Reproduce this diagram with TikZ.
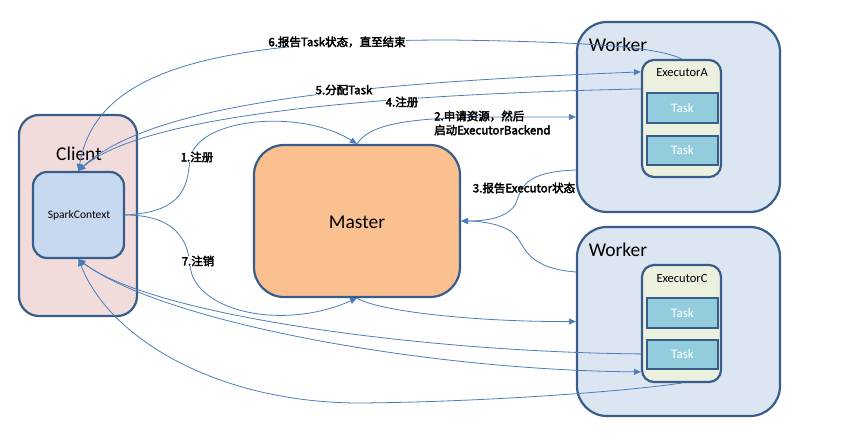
\documentclass[tikz,border=0pt]{standalone}
\usepackage{fontspec}
\setmainfont{Carlito}
\newfontfamily\cjk[FakeBold=3]{Noto Sans CJK SC}
\usetikzlibrary{arrows.meta,calc}
\definecolor{bordc}{HTML}{385D8A}
\definecolor{connc}{HTML}{4A7EBB}
\definecolor{clientc}{HTML}{F2DCDB}
\definecolor{scc}{HTML}{C6D9F1}
\definecolor{masterc}{HTML}{FAC090}
\definecolor{workerc}{HTML}{DCE6F2}
\definecolor{execc}{HTML}{EBF1DE}
\definecolor{taskc}{HTML}{93CDDD}
\begin{document}
\begin{tikzpicture}[x=1pt,y=-1pt,
  box/.style={draw=bordc, line width=2.2pt, rounded corners=#1, inner sep=0pt},
  bigtxt/.style={font=\fontsize{19.5}{22}\selectfont, inner sep=0pt},
  smtxt/.style={font=\fontsize{12.5}{14}\selectfont, inner sep=0pt},
  tasktxt/.style={font=\fontsize{13}{14}\selectfont, text=white, inner sep=0pt},
  taskbox/.style={draw=bordc, line width=2pt, fill=taskc, minimum width=71pt, minimum height=29.5pt, inner sep=0pt},
  conn/.style={draw=connc, line width=0.8pt, -{Triangle[length=7pt,width=6pt]}},
  lbl/.style={font=\cjk\fontsize{11.5}{14}\selectfont, inner sep=0pt, fill=white}]
\useasboundingbox (0,0) rectangle (861,442);
% Client
\node[box=20pt, fill=clientc, minimum width=118pt, minimum height=201pt] (client) at (78,215.5) {};
\node[bigtxt] (clientlbl) at (79,154) {Client};
\node[box=14pt, fill=scc, minimum width=91pt, minimum height=86pt] (sc) at (78.5,215) {};
\node[font=\fontsize{11.5}{13}\selectfont, inner sep=0pt] (sclbl) at (79,215) {SparkContext};
% Master
\node[box=30pt, fill=masterc, minimum width=206pt, minimum height=152pt] (master) at (357,221) {};
\node[bigtxt] (masterlbl) at (357,222) {Master};
% Worker 1
\node[box=30pt, fill=workerc, minimum width=203pt, minimum height=190pt] (w1) at (678.5,117) {};
\node[bigtxt] (w1lbl) at (618,45) {Worker};
\node[box=12pt, fill=execc, minimum width=79pt, minimum height=117pt] (exA) at (681.5,118.5) {};
\node[smtxt] (exAlbl) at (682,73) {ExecutorA};
\node[taskbox] (tA1) at (682.5,108) {};
\node[tasktxt] at (tA1) {Task};
\node[taskbox] (tA2) at (682.5,150.5) {};
\node[tasktxt] at (tA2) {Task};
% Worker 2
\node[box=30pt, fill=workerc, minimum width=203pt, minimum height=189pt] (w2) at (678.5,321.5) {};
\node[bigtxt] (w2lbl) at (618,250) {Worker};
\node[box=12pt, fill=execc, minimum width=79pt, minimum height=117pt] (exC) at (681.5,323.5) {};
\node[smtxt] (exClbl) at (682,278) {ExecutorC};
\node[taskbox] (tC1) at (682.5,313) {};
\node[tasktxt] at (tC1) {Task};
\node[taskbox] (tC2) at (682.5,354.5) {};
\node[tasktxt] at (tC2) {Task};
% connectors
\draw[conn] (sc.east) .. controls (185,212) and (187,185) .. (190,160) .. controls (195,118) and (300,108) .. (master.north);
\draw[conn] (master.north) .. controls (375,115) and (450,117) .. (w1.west);
\draw[conn] ([yshift=-53pt]w1.west) .. controls (520,172) and (522,190) .. (515,205) .. controls (505,220) and (480,221) .. (master.east);
\draw[conn] ([yshift=49.5pt]w2.west) .. controls (525,268) and (525,245) .. (515,235) .. controls (505,224) and (480,221) .. (master.east);
\draw[conn] ([yshift=-30pt]exA.north west) .. controls (350,95) and (140,118) .. (sc.north);
\draw[conn] (sc.north) .. controls (140,107) and (330,84) .. ([yshift=-13pt]exA.north west);
\draw[conn] (exA.north) .. controls (660,48) and (600,42) .. (450,40) .. controls (200,40) and (95,75) .. (sc.north);
\draw[conn] (sc.east) .. controls (175,215) and (188,240) .. (190,265) .. controls (193,310) and (280,332) .. (master.south);
\draw[conn] (master.south) .. controls (380,312) and (480,322) .. (w2.west);
\draw[conn] ([yshift=-90pt]exC.north west) .. controls (420,352) and (150,315) .. (sc.south);
\draw[conn] (sc.south) .. controls (150,320) and (420,370) .. ([yshift=-108pt]exC.north west);
\draw[conn] (exC.south) .. controls (620,392) and (480,402) .. (360,403) .. controls (220,403) and (110,340) .. (sc.south);
% labels
\node[lbl] (l1) at (197,157) {1.注册};
\node[lbl, align=left, anchor=west, fill=none] (l2) at (434,123) {2.申请资源，然后\\启动ExecutorBackend};
\node[lbl, fill=none] (l3) at (524,188) {3.报告Executor状态};
\node[lbl] (l4) at (402,102) {4.注册};
\node[lbl] (l5) at (344,90) {5.分配Task};
\node[lbl] (l6) at (337,42) {6.报告Task状态，直至结束};
\node[lbl] (l7) at (198,261) {7.注销};
\end{tikzpicture}
\end{document}
